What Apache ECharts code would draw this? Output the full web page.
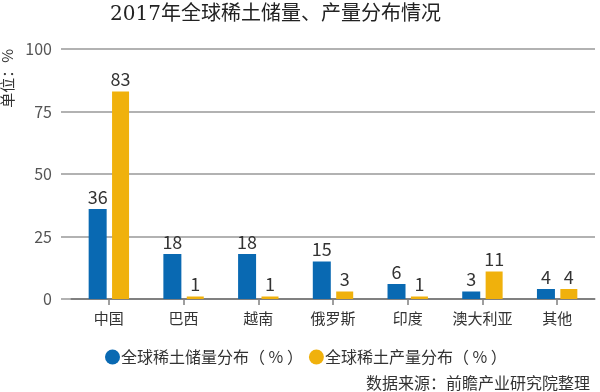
<!DOCTYPE html>
<html><head><meta charset="utf-8">
<script src="https://cdn.jsdelivr.net/npm/echarts@6/dist/echarts.min.js"></script>
<style>html,body{margin:0;padding:0;background:#fff}#c{width:600px;height:392px}</style>
</head><body><div id="c"></div>
<script>
const categories = ['中国','巴西','越南','俄罗斯','印度','澳大利亚','其他'];
const reserves = [36,18,18,15,6,3,4];
const production = [83,1,1,3,1,11,4];
const yTicks = [0,25,50,75,100];
const seriesNames = ['全球稀土储量分布（ % ）','全球稀土产量分布（ % ）'];
const FONT = '"Noto Sans CJK SC", "Noto Sans", sans-serif';
const chart = echarts.init(document.getElementById('c'), null, {renderer:'canvas'});
chart.setOption({
  animation:false,
  textStyle:{fontFamily:FONT},
  title:[{
    text:'2017年全球稀土储量、产量分布情况', left:105, top:0,
    textStyle:{fontSize:20, fontWeight:'normal', color:'#222', fontFamily:'"DejaVu Serif", "Noto Sans CJK SC", serif'}
  },{
    text:'数据来源：前瞻产业研究院整理', right:5, top:370,
    textStyle:{fontSize:16, fontWeight:'normal', color:'#333', fontFamily:FONT}
  }],
  legend:{
    left:100, top:344, itemGap:6, itemWidth:15, itemHeight:15, icon:'circle',
    textStyle:{fontSize:16, color:'#333', padding:[0,0,0,-4]},
    data:seriesNames
  },
  grid:[
    {left:61, right:5, top:49, bottom:93},
    {left:71.5, right:5.5, top:49, bottom:93}
  ],
  xAxis:[
    {gridIndex:0, type:'value', show:false, min:0, max:1},
    {gridIndex:1, type:'category', data:categories,
     axisLine:{show:true, lineStyle:{color:'#808080', width:2}},
     axisTick:{show:true, alignWithLabel:true, length:6, lineStyle:{color:'#808080', width:1.5}},
     axisLabel:{fontSize:15, color:'#333', margin:12, interval:0}}
  ],
  yAxis:[
    {gridIndex:0, type:'value', min:yTicks[0], max:yTicks[yTicks.length-1], interval:25,
     name:'单位：%', nameLocation:'end', nameRotate:90, nameGap:0,
     nameTextStyle:{fontSize:15, color:'#333', align:'right', verticalAlign:'bottom', padding:[0,0,46,0]},
     axisLine:{show:false}, axisTick:{show:false},
     axisLabel:{fontSize:16, color:'#555', margin:9},
     splitLine:{show:true, lineStyle:{color:'#999', width:1.5}}},
    {gridIndex:1, type:'value', min:0, max:100, show:false}
  ],
  series:[
    {name:seriesNames[0], type:'bar', xAxisIndex:1, yAxisIndex:1, data:reserves,
     barWidth:18, barGap:'30%', itemStyle:{color:'#0969b2'},
     label:{show:true, position:'top', distance:3, fontSize:18, color:'#333'}},
    {name:seriesNames[1], type:'bar', xAxisIndex:1, yAxisIndex:1, data:production,
     barWidth:17, barGap:'30%', itemStyle:{color:'#f0b10c'},
     label:{show:true, position:'top', distance:3, fontSize:18, color:'#333'}}
  ]
});
</script></body></html>
